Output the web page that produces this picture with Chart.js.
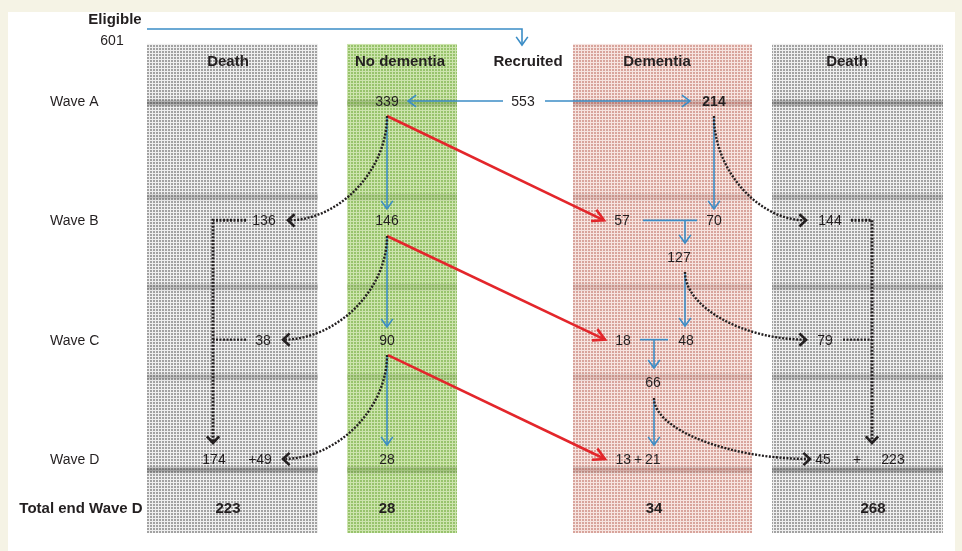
<!DOCTYPE html>
<html>
<head>
<meta charset="utf-8">
<script src="https://cdn.jsdelivr.net/npm/chart.js@4.4.1/dist/chart.umd.min.js"></script>
<style>
  html, body { margin: 0; padding: 0; background: #f5f3e5; }
  #wrap { width: 962px; height: 551px; }
</style>
</head>
<body>
<div id="wrap"><canvas id="chart" width="962" height="551"></canvas></div>
<script>
// y scale: wave index (0 = Wave A ... 3 = Wave D); x scale: layout units across the page
const waves = ['Wave A', 'Wave B', 'Wave C', 'Wave D'];
const totalLabel = 'Total end Wave D';
const totalRow = 3.41;
const headerRow = -0.335;

const columns = ['Death', 'No dementia', 'Recruited', 'Dementia', 'Death'];
const columnX = [228, 400, 528, 657, 847];
const columnFrom = [147, 347, null, 573, 772];
const columnTo = [318, 457, null, 752, 943];
const columnKind = ['grey', 'green', null, 'pink', 'grey'];

const eligibleLabel = 'Eligible';
const eligibleCount = '601';

// counts at each wave
const nodeText = ['339', '553', '214',
  '136', '146', '57', '70', '127', '144',
  '38', '90', '18', '48', '66', '79',
  '174', '+49', '28', '13\u2009+\u200921', '45', '+', '223'];
const nodeX = [387, 523, 714,
  264, 387, 622, 714, 679, 830,
  263, 387, 623, 686, 653, 825,
  214, 260, 387, 638, 823, 857, 893];
const nodeRow = [0, 0, 0,
  1, 1, 1, 1, 1.307, 1,
  2, 2, 2, 2, 2.355, 2,
  3, 3, 3, 3, 3, 3, 3];
const nodeBold = ['214'];

const totals = ['223', '28', '34', '268'];
const totalX = [228, 387, 654, 873];

// flows: [x, waveRow] points
const blueArrows = [
  [[147, -0.603], [522, -0.603], [522, -0.469]],
  [[503, 0], [408, 0]],
  [[545, 0], [690, 0]],
  [[387, 0.126], [387, 0.905]],
  [[714, 0.126], [714, 0.905]],
  [[387, 1.131], [387, 1.894]],
  [[685, 1], [685, 1.19]],
  [[685, 1.433], [685, 1.886]],
  [[654, 2], [654, 2.238]],
  [[387, 2.129], [387, 2.883]],
  [[654, 2.489], [654, 2.883]]
];
const blueJoins = [
  [[643, 1], [697, 1]],
  [[640, 2], [668, 2]]
];
const redArrows = [
  [[387, 0.126], [604, 1]],
  [[387, 1.131], [605, 2]],
  [[388, 2.129], [605, 3]]
];
const deathCurves = [
  [[387, 0.126], [288, 1]],
  [[387, 1.131], [283, 2]],
  [[387, 2.129], [283, 3]],
  [[714, 0.126], [806, 1]],
  [[685, 1.433], [806, 2]],
  [[654, 2.489], [810, 3]]
];
const deathArrows = [
  [[246, 1], [213, 1], [213, 2.866]],
  [[851, 1], [872, 1], [872, 2.866]]
];
const deathJoins = [
  [[246, 2], [213, 2]],
  [[843, 2], [872, 2]]
];

// decorative shading rows of the textured columns
const bandRows = [0.017, 0.805, 1.559, 2.313, 3.092];
const bandStrength = [1, 0.6, 0.6, 0.6, 1];

const BLUE = '#3b8dc6';
const RED = '#e3262b';
const INK = '#231f20';
const FONT = '"Liberation Sans", Arial, sans-serif';

function gridTile(base, line) {
  const c = document.createElement('canvas');
  c.width = 3; c.height = 3;
  const g = c.getContext('2d');
  g.fillStyle = line; g.fillRect(0, 0, 3, 3);
  g.fillStyle = base; g.fillRect(0, 0, 2, 2);
  return c;
}
const tiles = {
  grey: { tile: gridTile('#a2a2a2', '#efefef'), band: [70, 70, 70, 0.5] },
  green: { tile: gridTile('#98c36c', '#cde4ae'), band: [110, 165, 60, 0.45] },
  pink: { tile: gridTile('#d8a49c', '#f6e4e0'), band: [170, 80, 70, 0.4] }
};

function line(points, color, width, dash) {
  return {
    data: points.map(p => ({ x: p[0], y: p[1] })),
    showLine: true,
    borderColor: color,
    borderWidth: width,
    borderDash: dash || [],
    pointRadius: 0,
    tension: 0
  };
}

const datasets = [
  ...blueArrows.map(f => line(f, BLUE, 1.6)),
  ...blueJoins.map(f => line(f, BLUE, 1.6)),
  ...redArrows.map(f => line(f, RED, 2.6)),
  ...deathArrows.map(f => line(f, INK, 3, [2, 1.5])),
  ...deathJoins.map(f => line(f, INK, 2.4, [2, 1.5])),
  {
    data: nodeText.map((t, i) => ({ x: nodeX[i], y: nodeRow[i] })),
    pointRadius: 0
  }
];

function toPx(chart, p) {
  return [chart.scales.x.getPixelForValue(p[0]), chart.scales.y.getPixelForValue(p[1])];
}

function chevron(ctx, tip, from, len, spread) {
  const a = Math.atan2(tip[1] - from[1], tip[0] - from[0]);
  ctx.beginPath();
  ctx.moveTo(tip[0] - len * Math.cos(a - spread), tip[1] - len * Math.sin(a - spread));
  ctx.lineTo(tip[0], tip[1]);
  ctx.lineTo(tip[0] - len * Math.cos(a + spread), tip[1] - len * Math.sin(a + spread));
  ctx.stroke();
}

// text centred on a point; digits sit a little low of the em box
function label(ctx, text, p, size) {
  ctx.fillText(text, p[0], p[1] + size * 0.36);
}

const flowPlugin = {
  id: 'flow',
  beforeDraw(chart) {
    const ctx = chart.ctx;
    const y = chart.scales.y;
    ctx.save();
    ctx.fillStyle = '#f5f3e5';
    ctx.fillRect(0, 0, chart.width, chart.height);
    const p0 = toPx(chart, [8, -0.746]);
    const p1 = toPx(chart, [955, 3.771]);
    ctx.fillStyle = '#ffffff';
    ctx.fillRect(p0[0], p0[1], p1[0] - p0[0], p1[1] - p0[1]);

    columns.forEach((c, i) => {
      if (!columnKind[i]) return;
      const k = tiles[columnKind[i]];
      const a = toPx(chart, [columnFrom[i], -0.478]);
      const b = toPx(chart, [columnTo[i], 3.62]);
      ctx.fillStyle = ctx.createPattern(k.tile, 'repeat');
      ctx.fillRect(a[0], a[1], b[0] - a[0], b[1] - a[1]);
      bandRows.forEach((r, j) => {
        const yc = y.getPixelForValue(r);
        const c4 = k.band;
        const g = ctx.createLinearGradient(0, yc - 4, 0, yc + 4);
        g.addColorStop(0, 'rgba(0,0,0,0)');
        g.addColorStop(0.5, `rgba(${c4[0]},${c4[1]},${c4[2]},${c4[3] * bandStrength[j]})`);
        g.addColorStop(1, 'rgba(0,0,0,0)');
        ctx.fillStyle = g;
        ctx.fillRect(a[0], yc - 4, b[0] - a[0], 8);
      });
    });
    ctx.restore();
  },
  afterDatasetsDraw(chart) {
    const ctx = chart.ctx;
    ctx.save();
    ctx.lineCap = 'butt';
    ctx.lineJoin = 'miter';

    // dotted curved flows to death
    ctx.strokeStyle = INK;
    ctx.lineWidth = 2.4;
    ctx.setLineDash([2, 1.5]);
    deathCurves.forEach(([s, e]) => {
      const a = toPx(chart, s), b = toPx(chart, e);
      const k = 0.52;
      ctx.beginPath();
      ctx.moveTo(a[0], a[1]);
      ctx.bezierCurveTo(a[0], a[1] + k * (b[1] - a[1]), b[0] - k * (b[0] - a[0]), b[1], b[0], b[1]);
      ctx.stroke();
    });
    ctx.setLineDash([]);
    ctx.lineWidth = 2.6;
    deathCurves.forEach(([s, e]) => {
      const b = toPx(chart, e);
      const dir = Math.sign(b[0] - toPx(chart, s)[0]);
      chevron(ctx, b, [b[0] - dir * 10, b[1]], 9, 0.75);
    });
    deathArrows.forEach(f => {
      const b = toPx(chart, f[f.length - 1]), a = toPx(chart, f[f.length - 2]);
      chevron(ctx, b, a, 9, 0.75);
    });

    ctx.strokeStyle = BLUE;
    ctx.lineWidth = 1.6;
    blueArrows.forEach(f => {
      const b = toPx(chart, f[f.length - 1]), a = toPx(chart, f[f.length - 2]);
      chevron(ctx, b, a, 10, 0.62);
    });

    ctx.strokeStyle = RED;
    ctx.lineWidth = 2.6;
    redArrows.forEach(f => {
      const b = toPx(chart, f[1]), a = toPx(chart, f[0]);
      chevron(ctx, b, a, 13, 0.5);
    });

    // text
    ctx.fillStyle = INK;
    ctx.textBaseline = 'alphabetic';
    ctx.textAlign = 'center';
    nodeText.forEach((t, i) => {
      ctx.font = (nodeBold.includes(t) && nodeRow[i] === 0 ? 'bold ' : '') + '14px ' + FONT;
      label(ctx, t, toPx(chart, [nodeX[i], nodeRow[i]]), 14);
    });

    ctx.font = 'bold 15px ' + FONT;
    columns.forEach((c, i) => label(ctx, c, toPx(chart, [columnX[i], headerRow]), 15));
    totals.forEach((t, i) => label(ctx, t, toPx(chart, [totalX[i], totalRow]), 15));
    label(ctx, eligibleLabel, toPx(chart, [115, -0.687]), 15);
    label(ctx, totalLabel, toPx(chart, [81, totalRow]), 15);

    ctx.font = '14px ' + FONT;
    label(ctx, eligibleCount, toPx(chart, [112, -0.511]), 14);
    ctx.textAlign = 'left';
    waves.forEach((w, i) => label(ctx, w, toPx(chart, [50, i]), 14));
    ctx.restore();
  }
};

new Chart(document.getElementById('chart'), {
  type: 'scatter',
  data: { datasets },
  options: {
    responsive: false,
    animation: false,
    layout: { padding: 0 },
    plugins: { legend: { display: false }, tooltip: { enabled: false } },
    scales: {
      x: { type: 'linear', min: 0, max: 962, display: false },
      y: { type: 'linear', min: -0.8464, max: 3.771, reverse: true, display: false }
    }
  },
  plugins: [flowPlugin]
});
</script>
</body>
</html>
